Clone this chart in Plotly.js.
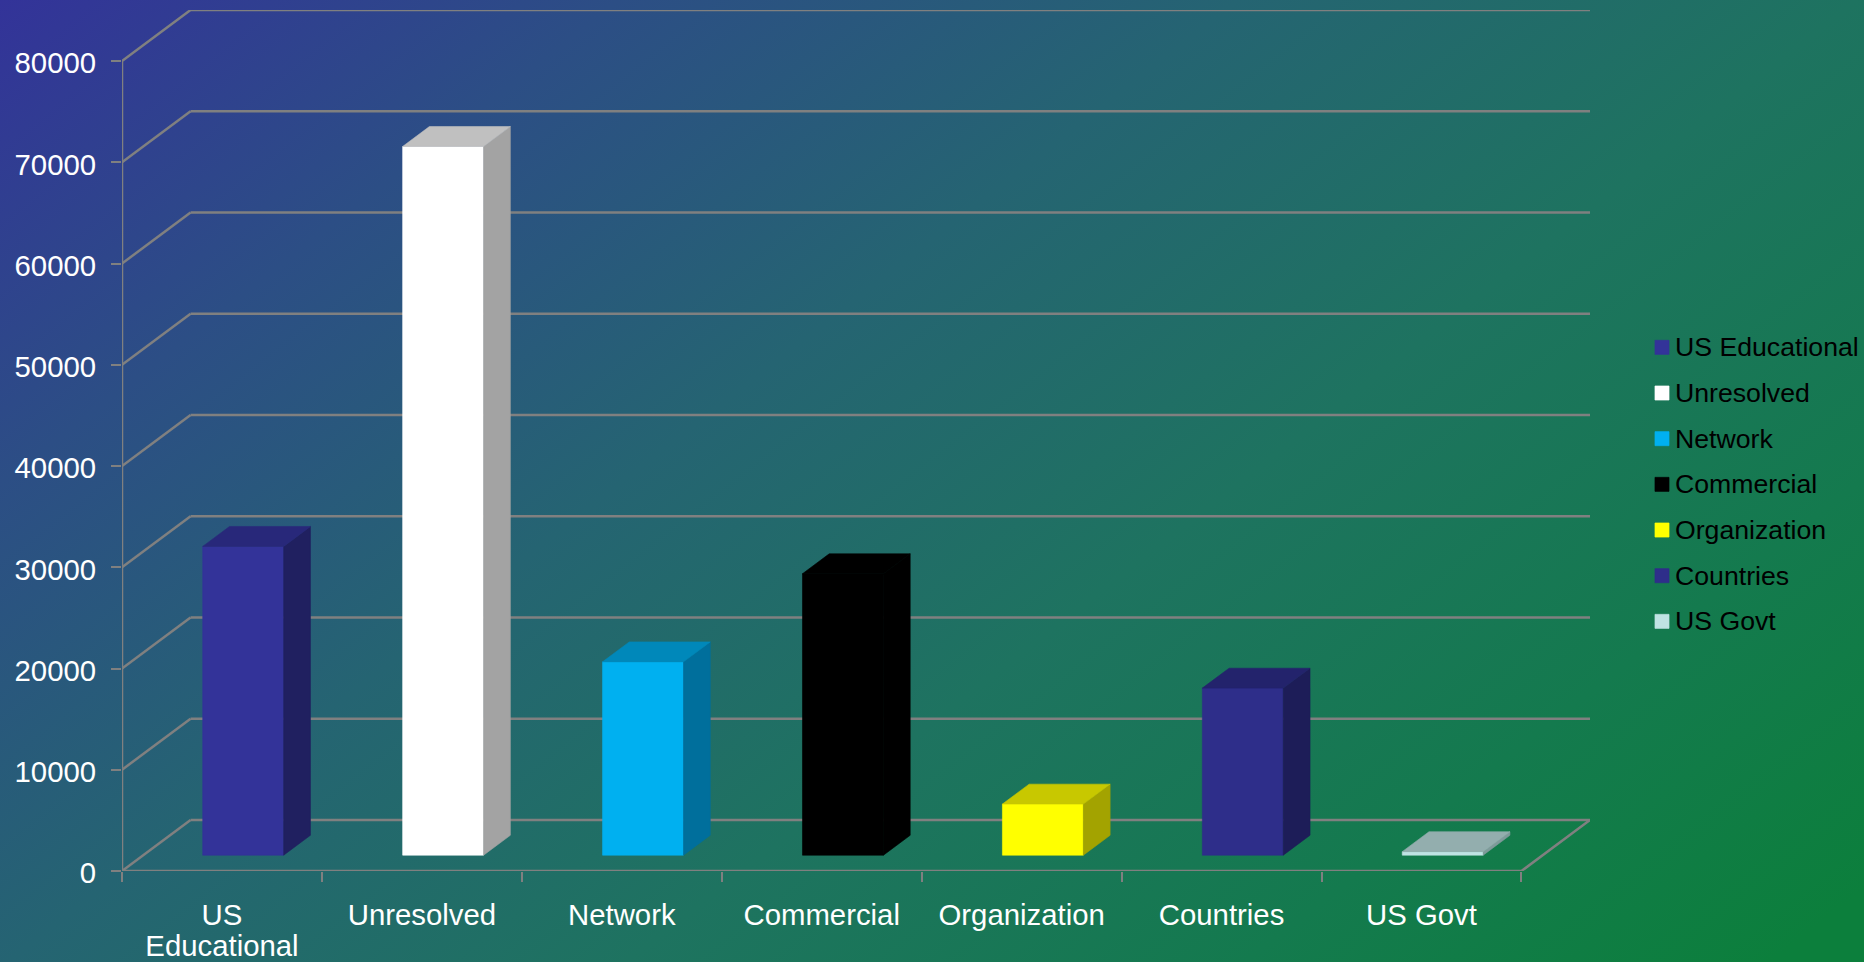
<!DOCTYPE html>
<html>
<head>
<meta charset="utf-8">
<script src="https://cdn.plot.ly/plotly-3.0.1.min.js"></script>
<style>
  html, body { margin: 0; padding: 0; width: 1864px; height: 962px; overflow: hidden; }
  body { background: linear-gradient(142deg, #333399 0%, #2c4e85 20%, #256472 40%, #1e7360 60%, #147a4e 80%, #0c7f3c 97%, #0c7f3c 100%); }
  #chart { width: 1864px; height: 962px; }
</style>
</head>
<body>
<div id="chart"></div>
<script>
// Host counts by domain class
const categories = ['US Educational', 'Unresolved', 'Network', 'Commercial', 'Organization', 'Countries', 'US Govt'];
const tickLabels = ['US<br>Educational', 'Unresolved', 'Network', 'Commercial', 'Organization', 'Countries', 'US Govt'];
const values = [30500, 70000, 19100, 27800, 5050, 16500, 350];
const yTicks = [0, 10000, 20000, 30000, 40000, 50000, 60000, 70000, 80000];

// Shades for the three visible faces of each column
const frontColors = ['#333399', '#ffffff', '#00b0f0', '#000000', '#ffff00', '#2e2e8a', '#bfe3e3'];
const topColors   = ['#28287a', '#c0c0c0', '#0088ba', '#000000', '#c8c800', '#23236c', '#93aeae'];
const sideColors  = ['#202060', '#a3a3a3', '#006f9c', '#000000', '#a3a300', '#1d1d58', '#7f9a9a'];

// Oblique projection: depth 0 is the front plane, depth 1 the back wall
const depthX = 0.343;   // horizontal shift of the back wall, in category units
const depthY = 5040;    // vertical shift of the back wall, in value units
const yMax = 80000;
const nCat = categories.length;
const gridColor = '#808080';
const gridWidth = 2.5;

const project = (x, v, d) => [x + d * depthX, v + d * depthY];

// Columns occupy this depth band and this share of a category
const depthFront = 0.31, depthBack = 0.70, barWidth = 0.405;

const segment = (a, b) => ({
  type: 'line', layer: 'below', xref: 'x', yref: 'y',
  x0: a[0], y0: a[1], x1: b[0], y1: b[1],
  line: { color: gridColor, width: gridWidth }
});

// Inner walls: each value level runs along the side wall, then across the back wall.
// These stay behind the columns.
const shapes = [];
yTicks.slice(0, -1).forEach(v => {
  shapes.push(segment(project(0, v, 0), project(0, v, 1)));
  shapes.push(segment(project(0, v, 1), project(nCat, v, 1)));
});

// Outer frame lies on the plot edge, so it is drawn unclipped
const framePath = [
  project(nCat, 0, 1), project(nCat, 0, 0), project(0, 0, 0), project(0, yMax, 0),
  project(0, yMax, 1), project(nCat, yMax, 1)
];

const polygon = (corners, color) => ({
  type: 'scatter', mode: 'lines', fill: 'toself', fillcolor: color,
  x: corners.map(c => c[0]), y: corners.map(c => c[1]),
  line: { width: 0.6, color: color }, showlegend: false, hoverinfo: 'skip'
});

const traces = [];
categories.forEach((name, i) => {
  const cx = i + 0.5, hw = barWidth / 2, v = values[i];
  const frontBase = depthFront * depthY;
  // Front face as a real bar, which also supplies the legend entry
  traces.push({
    type: 'bar', name: name, legendgroup: name,
    x: [cx + depthFront * depthX], y: [v], base: [frontBase], width: [barWidth],
    marker: { color: frontColors[i], line: { width: 0.6, color: frontColors[i] } },
    hovertemplate: name + ': %{y}<extra></extra>'
  });
  const l = cx - hw, r = cx + hw;
  traces.push(polygon([
    project(r, 0, depthFront), project(r, 0, depthBack),
    project(r, v, depthBack), project(r, v, depthFront), project(r, 0, depthFront)
  ], sideColors[i]));
  traces.push(polygon([
    project(l, v, depthFront), project(r, v, depthFront),
    project(r, v, depthBack), project(l, v, depthBack), project(l, v, depthFront)
  ], topColors[i]));
});

// Frame trace, also carrying the boundary tick marks of the category axis
traces.push({
  type: 'scatter', mode: 'lines', xaxis: 'x2', cliponaxis: false,
  x: framePath.map(p => p[0]), y: framePath.map(p => p[1]),
  line: { color: gridColor, width: gridWidth },
  showlegend: false, hoverinfo: 'skip'
});

const plotLeft = 122.4, plotRight = 1590, plotTop = 10, plotBottom = 871;
const tickFont = { family: 'Liberation Sans, Arial, sans-serif', color: '#ffffff', size: 29.33 };

const layout = {
  width: 1864, height: 962, autosize: false,
  paper_bgcolor: 'rgba(0,0,0,0)', plot_bgcolor: 'rgba(0,0,0,0)',
  margin: { l: plotLeft, r: 1864 - plotRight, t: plotTop, b: 962 - plotBottom, pad: 0 },
  barmode: 'overlay',
  shapes: shapes,
  xaxis: {
    type: 'linear', range: [0, nCat + depthX], fixedrange: true,
    tickmode: 'array', tickvals: categories.map((c, i) => i + 0.5), ticktext: tickLabels,
    ticks: '', showgrid: false, zeroline: false, showline: false,
    ticklabelstandoff: 24, tickangle: 0,
    tickfont: tickFont
  },
  xaxis2: {
    type: 'linear', overlaying: 'x', side: 'bottom', range: [0, nCat + depthX], fixedrange: true,
    tickmode: 'array', tickvals: categories.map((c, i) => i).concat([nCat]), showticklabels: false,
    ticks: 'outside', ticklen: 10, tickwidth: 2, tickcolor: gridColor,
    showgrid: false, zeroline: false, showline: false
  },
  yaxis: {
    type: 'linear', range: [0, yMax + depthY], fixedrange: true,
    tickmode: 'array', tickvals: yTicks, ticktext: yTicks.map(String),
    ticks: 'outside', ticklen: 10, tickwidth: 2, tickcolor: gridColor,
    showgrid: false, zeroline: false, showline: false,
    ticklabelstandoff: 9, ticklabelshift: 2,
    tickfont: tickFont
  },
  legend: {
    xref: 'container', yref: 'container',
    x: 1635 / 1864, xanchor: 'left',
    y: 1 - 322 / 962, yanchor: 'top',
    bgcolor: 'rgba(0,0,0,0)', borderwidth: 0,
    traceorder: 'grouped', tracegroupgap: 8,
    font: { family: 'Liberation Sans, Arial, sans-serif', size: 26.67, color: '#000000' }
  },
  hovermode: 'closest',
  showlegend: true
};

// Enlarge the legend squares and sit them close to their labels;
// tighten the leading of the two-line category label
function refineDetails() {
  document.querySelectorAll('.legend .legendpoints path').forEach(p => {
    p.setAttribute('transform', 'translate(27,1.5) scale(1.17)');
    p.style.transform = 'translate(27px,1.5px) scale(1.17)';
  });
  document.querySelectorAll('.xtick text tspan.line').forEach(t => {
    if (t.previousSibling) t.setAttribute('dy', (31 / 29.33) + 'em');
  });
}

const chart = document.getElementById('chart');
Plotly.newPlot(chart, traces, layout, { displayModeBar: false, responsive: false }).then(() => {
  refineDetails();
  chart.on('plotly_afterplot', refineDetails);
  requestAnimationFrame(refineDetails);
});
</script>
</body>
</html>
